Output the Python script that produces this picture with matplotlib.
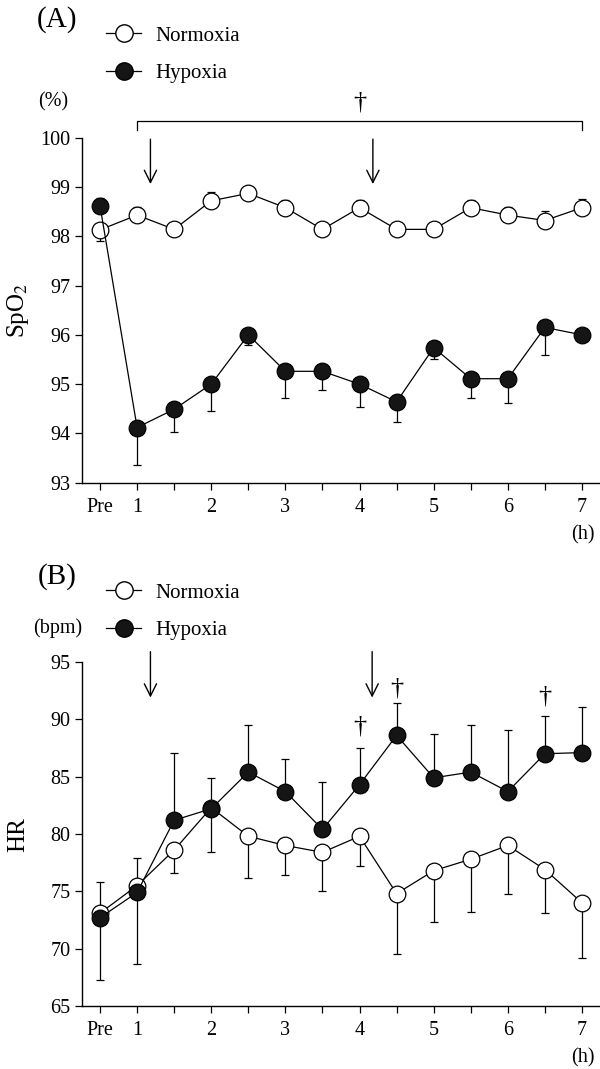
import matplotlib
matplotlib.use("Agg")
import matplotlib.pyplot as plt
from matplotlib.lines import Line2D

plt.rcParams["font.family"] = ["Liberation Serif", "DejaVu Serif"]
plt.rcParams["mathtext.fontset"] = "stix"

# time points (h); "Pre" sits at 0.5
times = [0.5, 1, 1.5, 2, 2.5, 3, 3.5, 4, 4.5, 5, 5.5, 6, 6.5, 7]
tick_labels = ["Pre", "1", "", "2", "", "3", "", "4", "", "5", "", "6", "", "7"]

# (A) SpO2 (%)
spo2_norm = [98.13, 98.43, 98.14, 98.72, 98.87, 98.58, 98.14, 98.58, 98.14, 98.14, 98.58, 98.43, 98.32, 98.58]
spo2_norm_lo = [0.23, 0, 0, 0, 0, 0, 0, 0, 0, 0, 0, 0, 0, 0]
spo2_norm_hi = [0, 0.17, 0, 0.18, 0, 0.15, 0, 0.16, 0, 0, 0.15, 0.16, 0.2, 0.17]
spo2_hyp = [98.62, 94.12, 94.49, 95.0, 96.0, 95.26, 95.26, 95.0, 94.64, 95.74, 95.11, 95.11, 96.15, 96.0]
spo2_hyp_lo = [0, 0.77, 0.47, 0.54, 0.2, 0.55, 0.37, 0.47, 0.4, 0.23, 0.4, 0.5, 0.56, 0]
spo2_hyp_hi = [0.16, 0, 0, 0, 0, 0, 0, 0, 0, 0, 0, 0, 0, 0]

# (B) HR (bpm)
hr_norm = [73.1, 75.5, 78.6, 82.3, 79.8, 79.0, 78.4, 79.8, 74.8, 76.8, 77.8, 79.0, 76.9, 74.0]
hr_norm_lo = [5.8, 6.8, 2.0, 3.9, 3.6, 2.6, 3.4, 2.6, 5.3, 4.5, 4.6, 4.2, 3.8, 4.8]
hr_hyp = [72.7, 74.9, 81.2, 82.2, 85.4, 83.7, 80.4, 84.3, 88.6, 84.9, 85.4, 83.7, 87.0, 87.1]
hr_hyp_hi = [3.1, 3.0, 5.9, 2.7, 4.1, 2.8, 4.1, 3.2, 2.8, 3.8, 4.1, 5.4, 3.3, 4.0]
zeros = [0] * len(times)

W, H = 600, 1069
fig = plt.figure(figsize=(W / 100, H / 100), dpi=100)
FILL = "#151515"


def fx(px):
    return px / W


def fy(py):
    return 1 - py / H


def panel(ax, norm, n_lo, n_hi, hyp, h_lo, h_hi, ylim, yticks):
    ax.errorbar(times, norm, yerr=[n_lo, n_hi], fmt="none", ecolor="black",
                elinewidth=0.9, capsize=3, capthick=0.9, zorder=1)
    ax.errorbar(times, hyp, yerr=[h_lo, h_hi], fmt="none", ecolor="black",
                elinewidth=0.9, capsize=3, capthick=0.9, zorder=1)
    ax.plot(times, norm, "-o", color="black", lw=0.9, ms=12,
            mfc="white", mec="black", mew=0.9, zorder=3)
    ax.plot(times, hyp, "-o", color="black", lw=0.9, ms=12,
            mfc=FILL, mec="black", mew=0.9, zorder=4)
    ax.set_xlim(0.253, 7.243)
    ax.set_ylim(*ylim)
    ax.set_xticks(times)
    ax.set_xticklabels(tick_labels)
    ax.set_yticks(yticks)
    for s in ["top", "right"]:
        ax.spines[s].set_visible(False)
    for s in ["left", "bottom"]:
        ax.spines[s].set_linewidth(1.0)
    ax.tick_params(direction="out", length=5, width=0.9, labelsize=14.5, pad=3)
    ax.tick_params(axis="x", pad=6)


def legend(ax, top_px):
    handles = [
        Line2D([], [], color="black", lw=0.9, marker="o", ms=12.5, mfc="white", mec="black"),
        Line2D([], [], color="black", lw=0.9, marker="o", ms=12.5, mfc=FILL, mec="black"),
    ]
    ax.legend(handles, ["Normoxia", "Hypoxia"], loc="upper left",
              bbox_to_anchor=(fx(106), fy(top_px)), bbox_transform=fig.transFigure,
              frameon=False, fontsize=15, handlelength=1.7, handletextpad=0.65,
              labelspacing=0.85, borderpad=0, borderaxespad=0)


def arrow(ax, x, top, tip):
    ax.annotate("", xy=(x, tip), xytext=(x, top), annotation_clip=False,
                arrowprops=dict(arrowstyle="->", lw=1.0, color="black",
                                mutation_scale=22, shrinkA=0, shrinkB=0))


# ---- panel A ----
axA = fig.add_axes([fx(81.7), fy(482.7), 1 - fx(81.7), (482.7 - 137.7) / H])
panel(axA, spo2_norm, spo2_norm_lo, spo2_norm_hi, spo2_hyp, spo2_hyp_lo, spo2_hyp_hi,
      (93, 100), range(93, 101))
legend(axA, 26)
arrow(axA, 1.18, 99.97, 99.06)
arrow(axA, 4.18, 99.97, 99.06)
axA.plot([1, 1, 7, 7], [100.16, 100.34, 100.34, 100.16], color="black", lw=0.9, clip_on=False)
axA.text(4, 100.72, "†", ha="center", va="center", fontsize=19)

fig.text(fx(57), fy(20), "(A)", ha="center", va="center", fontsize=21)
fig.text(fx(53), fy(102), "(%)", ha="center", va="center", fontsize=14.5)
fig.text(fx(18), fy(310), "SpO$_2$", ha="center", va="center", rotation=90, fontsize=18)
fig.text(fx(583), fy(535), "(h)", ha="center", va="center", fontsize=14.5)

# ---- panel B ----
axB = fig.add_axes([fx(81.7), fy(1006), 1 - fx(81.7), (1006 - 662) / H])
panel(axB, hr_norm, hr_norm_lo, zeros, hr_hyp, zeros, hr_hyp_hi,
      (65, 95), range(65, 96, 5))
legend(axB, 583)
arrow(axB, 1.18, 95.9, 91.9)
arrow(axB, 4.17, 95.9, 91.9)
for x, y in [(4, 89.4), (4.5, 92.7), (6.5, 92.0)]:
    axB.text(x, y, "†", ha="center", va="center", fontsize=19)

fig.text(fx(57), fy(577), "(B)", ha="center", va="center", fontsize=21)
fig.text(fx(58), fy(628), "(bpm)", ha="center", va="center", fontsize=14.5)
fig.text(fx(18), fy(835), "HR", ha="center", va="center", rotation=90, fontsize=18)
fig.text(fx(583), fy(1058), "(h)", ha="center", va="center", fontsize=14.5)

fig.savefig("out.png", dpi=100)
